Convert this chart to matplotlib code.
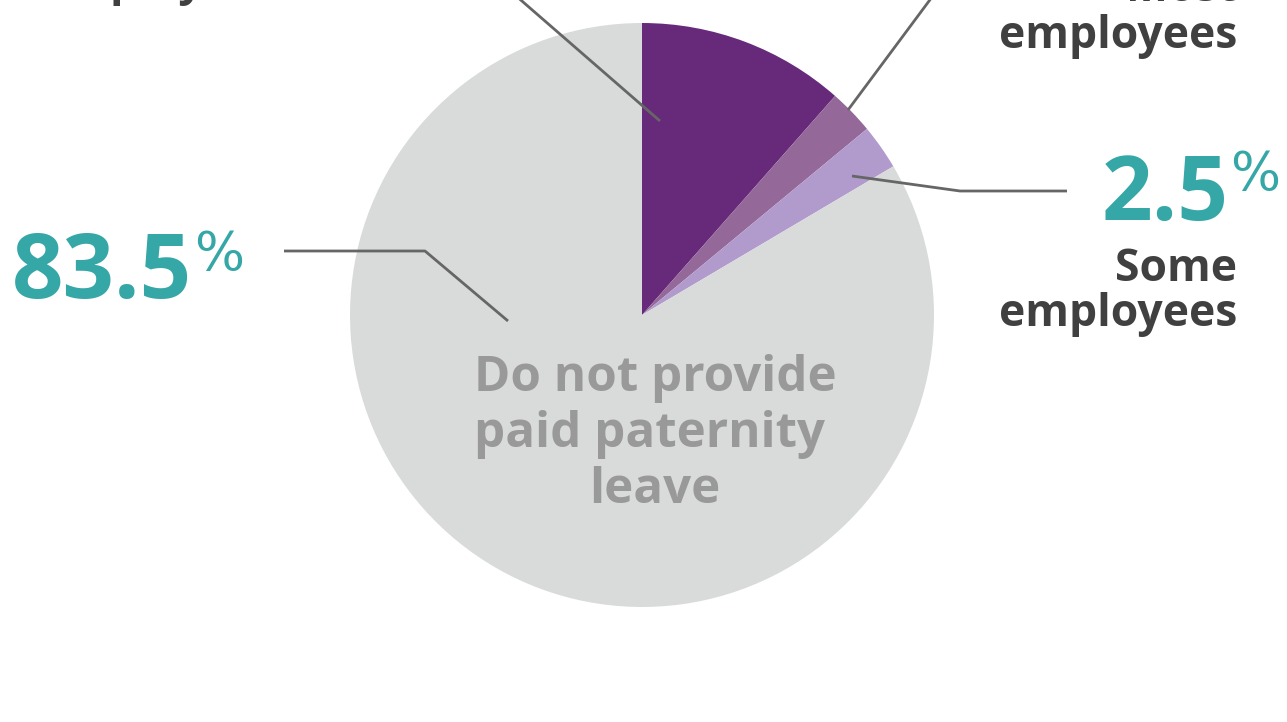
import matplotlib.pyplot as plt

# slice shares (percent), clockwise from 12 o'clock
labels = ['All employees', 'Most employees', 'Some employees', 'Do not provide paid paternity leave']
shares = [11.5, 2.5, 2.5, 83.5]
colors = ['#672a7a', '#946898', '#b19bcd', '#d9dbdb']

W, H = 1287, 722
TEAL = '#35a7a6'
DARK = '#404040'
LINE = '#666666'
FONT = 'Open Sans'


def py(y):
    # pixel row (from top) -> data y
    return H - y


fig = plt.figure(figsize=(W / 100, H / 100), dpi=100)
ax = fig.add_axes([0, 0, 1, 1])

ax.pie(shares, colors=colors, startangle=90, counterclock=False,
       center=(642, py(315)), radius=292, frame=True,
       wedgeprops=dict(linewidth=0))
ax.set_xlim(0, W)
ax.set_ylim(0, H)
ax.set_aspect('equal')
ax.axis('off')

# leader lines
kw = dict(color=LINE, lw=2, solid_capstyle='butt')
ax.plot([284, 425, 508], [py(251), py(251), py(321)], **kw)
ax.plot([515, 660], [py(-5), py(121)], **kw)
ax.plot([935, 848], [py(-7), py(110)], **kw)
ax.plot([1067, 960, 852], [py(191), py(191), py(176)], **kw)

# big percentages
ax.text(12, py(298), '83.5', color=TEAL, fontsize=65, fontweight='bold',
        family=FONT, ha='left', va='baseline')
ax.text(194, py(229), '%', color=TEAL, fontsize=38, family='DejaVu Sans',
        ha='left', va='top')
ax.text(1229, py(220), '2.5', color=TEAL, fontsize=64, fontweight='bold',
        family=FONT, ha='right', va='baseline')
ax.text(1230, py(149), '%', color=TEAL, fontsize=38, family='DejaVu Sans',
        ha='left', va='top')

# category labels
lab = dict(color=DARK, fontsize=32, fontweight='bold', family=FONT, va='baseline')
ax.text(1237, py(281), 'Some', ha='right', **lab)
ax.text(1237, py(326), 'employees', ha='right', **lab)
ax.text(1237, py(1), 'Most', ha='right', **lab)
ax.text(1237, py(48), 'employees', ha='right', **lab)
ax.text(40, py(-5), 'employees', ha='left', **lab)

mid = dict(color='#999999', fontsize=35.5, fontweight='bold', family=FONT,
           ha='center', va='baseline')
ax.text(655, py(391), 'Do not provide', **mid)
ax.text(650, py(447), 'paid paternity', **mid)
ax.text(655, py(503), 'leave', **mid)

fig.savefig('out.png', dpi=100)
